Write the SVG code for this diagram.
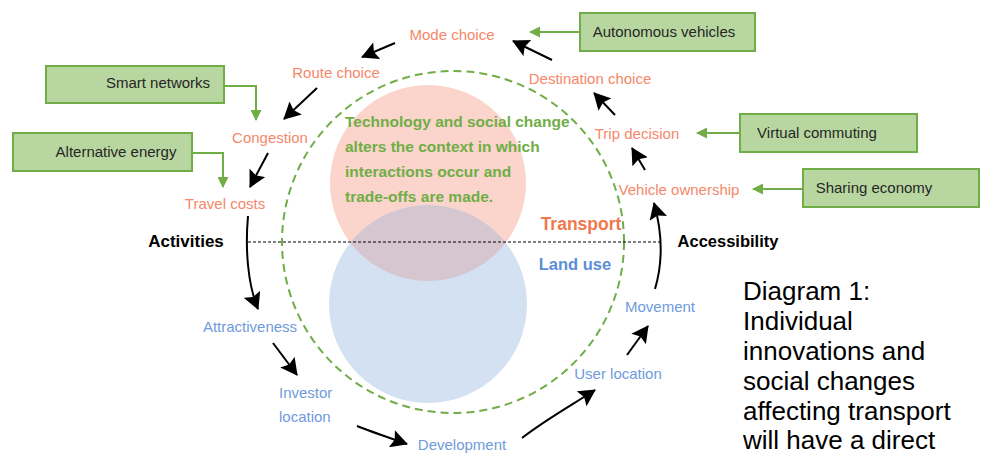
<svg xmlns="http://www.w3.org/2000/svg" width="987" height="456" viewBox="0 0 987 456">
<style>
.lbl{font-family:"Liberation Sans",Arial,sans-serif;font-size:15px;text-anchor:middle}
.o{fill:#F5876A}
.b{fill:#6F9BDB}
.box rect{fill:#B8D7A0;stroke:#70AD47;stroke-width:2}
.box text{font-family:"Liberation Sans",Arial,sans-serif;font-size:15px;fill:#262626;text-anchor:middle}
.bold{font-family:"Liberation Sans",Arial,sans-serif;font-weight:bold}
.blk{fill:none;stroke:#000;stroke-width:2;marker-end:url(#ah)}
.grn{fill:none;stroke:#70AD47;stroke-width:2;marker-end:url(#gh)}
.cap{font-family:"Liberation Sans",Arial,sans-serif;font-size:26px;fill:#000}
</style>
<defs>
<marker id="ah" markerWidth="18" markerHeight="18" refX="16" refY="9" orient="auto" markerUnits="userSpaceOnUse">
<path d="M0,0 L17,9 L0,18 L3,9 z" fill="#000"/>
</marker>
<marker id="gh" markerWidth="11" markerHeight="11" refX="10" refY="5.5" orient="auto" markerUnits="userSpaceOnUse">
<path d="M0,0 L11,5.5 L0,11 z" fill="#70AD47"/>
</marker>
<clipPath id="pc"><circle cx="428" cy="183" r="98"/></clipPath>
</defs>

<g id="circles">
<circle cx="428" cy="183" r="98" fill="#FBD5CB"/>
<circle cx="428" cy="304" r="99" fill="#D4E1F2"/>
<circle cx="428" cy="304" r="99" fill="#D6C6D0" clip-path="url(#pc)"/>
<circle cx="453" cy="242" r="171" fill="none" stroke="#70AD47" stroke-width="2" stroke-dasharray="8,5"/>
<line x1="248" y1="242" x2="662" y2="242" stroke="#000" stroke-width="1" stroke-dasharray="3,2"/>
</g>

<g id="center-text" class="bold" font-size="15.5" fill="#70AD47">
<text x="345" y="127">Technology and social change</text>
<text x="345" y="152">alters the context in which</text>
<text x="345" y="177">interactions occur and</text>
<text x="345" y="202">trade-offs are made.</text>
</g>
<g id="transport"><text class="bold" x="581" y="230" font-size="17.5" fill="#F0784F" text-anchor="middle">Transport</text></g>
<g id="landuse"><text class="bold" x="575" y="270" font-size="16.5" fill="#5B8ED6" text-anchor="middle">Land use</text></g>
<g id="activities"><text class="bold" x="186" y="247" font-size="17" fill="#000" text-anchor="middle">Activities</text></g>
<g id="accessibility"><text class="bold" x="728" y="247" font-size="16.5" fill="#000" text-anchor="middle">Accessibility</text></g>

<g id="mode-choice"><text class="lbl o" x="452" y="40">Mode choice</text></g>
<g id="route-choice"><text class="lbl o" x="336" y="78">Route choice</text></g>
<g id="congestion"><text class="lbl o" x="270" y="143">Congestion</text></g>
<g id="travel-costs"><text class="lbl o" x="225" y="209">Travel costs</text></g>
<g id="destination-choice"><text class="lbl o" x="590" y="84">Destination choice</text></g>
<g id="trip-decision"><text class="lbl o" x="637" y="139">Trip decision</text></g>
<g id="vehicle-ownership"><text class="lbl o" x="679" y="195">Vehicle ownership</text></g>
<g id="attractiveness"><text class="lbl b" x="250" y="332">Attractiveness</text></g>
<g id="investor-location"><text class="lbl b" x="279" y="398" style="text-anchor:start">Investor</text><text class="lbl b" x="279" y="422" style="text-anchor:start">location</text></g>
<g id="development"><text class="lbl b" x="462" y="450">Development</text></g>
<g id="user-location"><text class="lbl b" x="618" y="379">User location</text></g>
<g id="movement"><text class="lbl b" x="660" y="312">Movement</text></g>

<g id="smart-networks" class="box"><rect x="46" y="66" width="178" height="37"/><text x="158" y="88">Smart networks</text></g>
<g id="alternative-energy" class="box"><rect x="13" y="133" width="179" height="38"/><text x="116" y="157">Alternative energy</text></g>
<g id="autonomous-vehicles" class="box"><rect x="580" y="13" width="175" height="38"/><text x="664" y="37">Autonomous vehicles</text></g>
<g id="virtual-commuting" class="box"><rect x="740" y="114" width="177" height="38"/><text x="817" y="138">Virtual commuting</text></g>
<g id="sharing-economy" class="box"><rect x="803" y="169" width="176" height="38"/><text x="874" y="193">Sharing economy</text></g>

<g id="connectors">
<path class="grn" d="M224,86 H256 V120"/>
<path class="grn" d="M192,153 H223 V187"/>
<path class="grn" d="M580,32 H530"/>
<path class="grn" d="M740,133 H697"/>
<path class="grn" d="M803,189 H753"/>

<path class="blk" d="M395,43 L362,57"/>
<path class="blk" d="M552,60 L513,41"/>
<path class="blk" d="M615,115 L594,93"/>
<path class="blk" d="M645,170 L632,148"/>
<path class="blk" d="M317,88 L284,119"/>
<path class="blk" d="M268,153 L250,187"/>
<path class="blk" d="M248,216 C245,250 248,285 258,309"/>
<path class="blk" d="M273,343 L297,375"/>
<path class="blk" d="M357,426 C372,432 390,438 407,444"/>
<path class="blk" d="M522,438 C545,420 572,405 595,390"/>
<path class="blk" d="M627,355 L648,326"/>
<path class="blk" d="M655,289 C663,262 663,235 654,203"/>
</g>

<g id="caption">
<text class="cap" x="743" y="300">Diagram 1:</text>
<text class="cap" x="743" y="330">Individual</text>
<text class="cap" x="743" y="360">innovations and</text>
<text class="cap" x="743" y="390">social changes</text>
<text class="cap" x="743" y="420">affecting transport</text>
<text class="cap" x="743" y="449">will have a direct</text>
</g>
</svg>
